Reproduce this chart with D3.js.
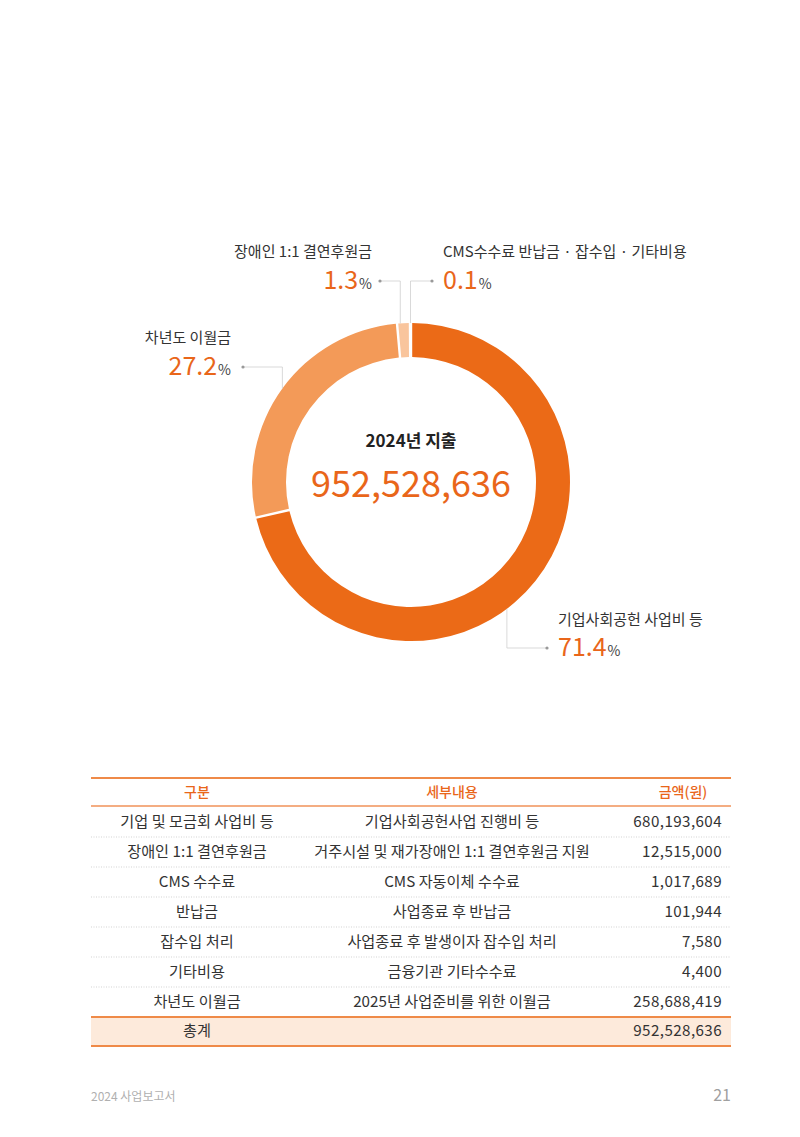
<!DOCTYPE html>
<html>
<head>
<meta charset="utf-8">
<script src="https://cdn.jsdelivr.net/npm/d3@7"></script>
<style>
  body { margin: 0; background: #fff; }
  svg { display: block; font-family: "Noto Sans CJK KR", "Noto Sans", sans-serif; }
</style>
</head>
<body>
<svg id="chart" width="800" height="1137"></svg>
<script>
// donut data
var sliceNames = ["기업사회공헌 사업비 등", "차년도 이월금", "장애인 1:1 결연후원금", "CMS수수료 반납금 · 잡수입 · 기타비용"];
var slicePct = [71.4, 27.2, 1.3, 0.1];
var sliceColors = ["#eb6a17", "#f39a58", "#f9c59d", "#fbe0cb"];

// table data
var colHeads = ["구분", "세부내용", "금액(원)"];
var rowNames = ["기업 및 모금회 사업비 등", "장애인 1:1 결연후원금", "CMS 수수료", "반납금", "잡수입 처리", "기타비용", "차년도 이월금"];
var rowDetails = ["기업사회공헌사업 진행비 등", "거주시설 및 재가장애인 1:1 결연후원금 지원", "CMS 자동이체 수수료", "사업종료 후 반납금", "사업종료 후 발생이자 잡수입 처리", "금융기관 기타수수료", "2025년 사업준비를 위한 이월금"];
var rowAmounts = [680193604, 12515000, 1017689, 101944, 7580, 4400, 258688419];
var totalLabel = "총계";
var totalAmount = 952528636;

var orange = "#e9661a";
var svg = d3.select("#chart");
var fmt = d3.format(",");

// ---- donut ----
var cx = 411, cy = 482, rOut = 159, rIn = 125;
var g = svg.append("g").attr("transform", "translate(" + cx + "," + cy + ")");

var pie = d3.pie().sort(null).value(d => d);
var arcs = pie(slicePct);
var arc = d3.arc().innerRadius(rIn).outerRadius(rOut).padAngle(0.012);

g.selectAll("path.slice")
  .data(arcs)
  .enter().append("path")
  .attr("class", "slice")
  .attr("d", arc)
  .attr("fill", (d, i) => sliceColors[i]);

// center text
g.append("text").attr("x", 0).attr("y", -35).attr("text-anchor", "middle")
  .style("font-size", "17px").style("font-weight", "700").style("fill", "#222")
  .text("2024년 지출");
g.append("text").attr("x", 0).attr("y", 15).attr("text-anchor", "middle")
  .style("font-size", "36px").style("fill", orange)
  .text(fmt(d3.sum(rowAmounts)));

// leader lines & labels (where on the slice the line starts, elbow, dot, label side)
var anchorAt = [0.556, 0.5, 0.25, 0.5];  // fraction through slice
var elbowY = [648, 367, 281, 281];
var dotX = [547, 243, 380, 432];
var textX = [558, 231, 372, 443];
var sideRight = [true, false, false, true];

arcs.forEach(function(a, i) {
  var ang = a.startAngle + (a.endAngle - a.startAngle) * anchorAt[i];
  var ax = cx + rOut * Math.sin(ang);
  var ay = cy - rOut * Math.cos(ang);
  svg.append("path")
    .attr("d", "M" + ax + "," + ay + "V" + elbowY[i] + "H" + dotX[i])
    .style("fill", "none").style("stroke", "#cfcfcf").style("stroke-width", 0.8);
  svg.append("circle").attr("cx", dotX[i]).attr("cy", elbowY[i]).attr("r", 1.6)
    .style("fill", "#999");

  var anchor = sideRight[i] ? "start" : "end";
  var nameY = elbowY[i] - 24;
  if (i == 0) nameY = elbowY[i] - 23;
  svg.append("text").attr("x", textX[i]).attr("y", nameY)
    .attr("text-anchor", anchor)
    .style("font-size", "15px").style("fill", "#333")
    .text(sliceNames[i]);
  var t = svg.append("text").attr("x", textX[i]).attr("y", elbowY[i] + 8)
    .attr("text-anchor", anchor);
  t.append("tspan").style("font-size", "25px").style("fill", orange).text(slicePct[i].toFixed(1));
  t.append("tspan").style("font-size", "14px").style("fill", "#444").attr("dx", 1).text("%");
});

// ---- table ----
var tLeft = 91, tRight = 731;
var colX = [197, 452, 722];
var colAnchor = ["middle", "middle", "end"];
var headTop = 778, headBottom = 806, rowH = 30;
var cellFont = "15.2px";

var tb = svg.append("g");
tb.append("line").attr("x1", tLeft).attr("x2", tRight).attr("y1", headTop).attr("y2", headTop)
  .style("stroke", "#ef8a48").style("stroke-width", 2);
colHeads.forEach(function(h, i) {
  tb.append("text").attr("x", i == 2 ? 683 : colX[i]).attr("y", headTop + 19)
    .attr("text-anchor", "middle")
    .style("font-size", "14px").style("font-weight", "500").style("fill", orange)
    .text(h);
});
tb.append("line").attr("x1", tLeft).attr("x2", tRight).attr("y1", headBottom).attr("y2", headBottom)
  .style("stroke", "#f09258").style("stroke-width", 1.5);

var rowScale = d3.scaleBand().domain(d3.range(rowNames.length + 1))
  .range([headBottom + 1, headBottom + 1 + rowH * (rowNames.length + 1)]);

// total row background
var totY = rowScale(rowNames.length);
tb.append("rect").attr("x", tLeft).attr("y", totY).attr("width", tRight - tLeft).attr("height", rowH - 2)
  .style("fill", "#fdeadb");

rowNames.forEach(function(n, i) {
  var y = rowScale(i) + rowH / 2 + 5;
  var cells = [n, rowDetails[i], fmt(rowAmounts[i])];
  cells.forEach(function(c, j) {
    tb.append("text").attr("x", colX[j]).attr("y", y).attr("text-anchor", colAnchor[j])
      .style("font-size", cellFont).style("fill", "#333")
      .style("letter-spacing", j == 2 ? "0.4px" : null)
      .text(c);
  });
  if (i < rowNames.length - 1) {
    var ly = rowScale(i) + rowH;
    tb.append("line").attr("x1", tLeft).attr("x2", tRight).attr("y1", ly).attr("y2", ly)
      .style("stroke", "#c8c8c8").style("stroke-width", 0.8).style("stroke-dasharray", "1,1.5");
  }
});

tb.append("line").attr("x1", tLeft).attr("x2", tRight).attr("y1", totY).attr("y2", totY)
  .style("stroke", "#ef8a48").style("stroke-width", 2);
tb.append("text").attr("x", colX[0]).attr("y", totY + rowH / 2 + 4).attr("text-anchor", "middle")
  .style("font-size", cellFont).style("fill", "#333").text(totalLabel);
tb.append("text").attr("x", colX[2]).attr("y", totY + rowH / 2 + 4).attr("text-anchor", "end")
  .style("font-size", cellFont).style("fill", "#333").style("letter-spacing", "0.4px")
  .text(fmt(totalAmount));
tb.append("line").attr("x1", tLeft).attr("x2", tRight).attr("y1", totY + rowH - 1).attr("y2", totY + rowH - 1)
  .style("stroke", "#ef8a48").style("stroke-width", 2);

// ---- footer ----
svg.append("text").attr("x", 91).attr("y", 1101)
  .style("font-size", "12px").style("fill", "#b0b0b0").text("2024 사업보고서");
svg.append("text").attr("x", 731).attr("y", 1101).attr("text-anchor", "end")
  .style("font-size", "16px").style("fill", "#a0a0a0").text("21");
</script>
</body>
</html>
